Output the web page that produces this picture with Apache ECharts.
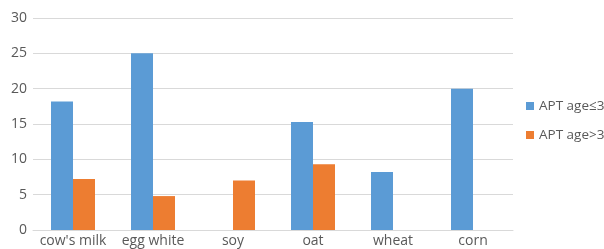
<!DOCTYPE html>
<html>
<head>
<meta charset="utf-8">
<script src="https://cdn.jsdelivr.net/npm/echarts@6/dist/echarts.min.js"></script>
<style>
  html, body { margin: 0; padding: 0; background: #fff; }
  #chart { width: 604px; height: 249px; }
</style>
</head>
<body>
<div id="chart"></div>
<script>
const categories = ['cow\'s milk', 'egg white', 'soy', 'oat', 'wheat', 'corn']
const ageLe3 = [18.2, 25, null, 15.3, 8.2, 20]
const ageGt3 = [7.2, 4.8, 7.0, 9.3, null, null]
const seriesNames = ['APT age≤3', 'APT age>3']

const textColor = '#595959'
const font = 'Open Sans'

const chart = echarts.init(document.getElementById('chart'))
chart.setOption({
  animation: false,
  grid: { left: 33, right: 91, top: 18, bottom: 19, containLabel: false },
  legend: {
    orient: 'vertical',
    left: 521,
    top: 94,
    itemWidth: 8,
    itemHeight: 8,
    itemGap: 15,
    icon: 'rect',
    textStyle: { color: textColor, fontSize: 13.5, fontFamily: font },
    data: seriesNames
  },
  xAxis: {
    type: 'category',
    data: categories,
    axisTick: { show: false },
    axisLine: { lineStyle: { color: '#d9d9d9', width: 1 } },
    axisLabel: { color: textColor, fontSize: 14, fontFamily: font, margin: 4, interval: 0 }
  },
  yAxis: {
    type: 'value',
    min: 0,
    max: 30,
    interval: 5,
    axisLabel: { color: textColor, fontSize: 14, fontFamily: font, margin: 6 },
    splitLine: { lineStyle: { color: '#d9d9d9', width: 1 } }
  },
  series: [
    {
      name: seriesNames[0],
      type: 'bar',
      data: ageLe3,
      barWidth: 22,
      barGap: '0%',
      itemStyle: { color: '#5b9bd5' }
    },
    {
      name: seriesNames[1],
      type: 'bar',
      data: ageGt3,
      barWidth: 22,
      itemStyle: { color: '#ed7d31' }
    }
  ]
})
</script>
</body>
</html>
